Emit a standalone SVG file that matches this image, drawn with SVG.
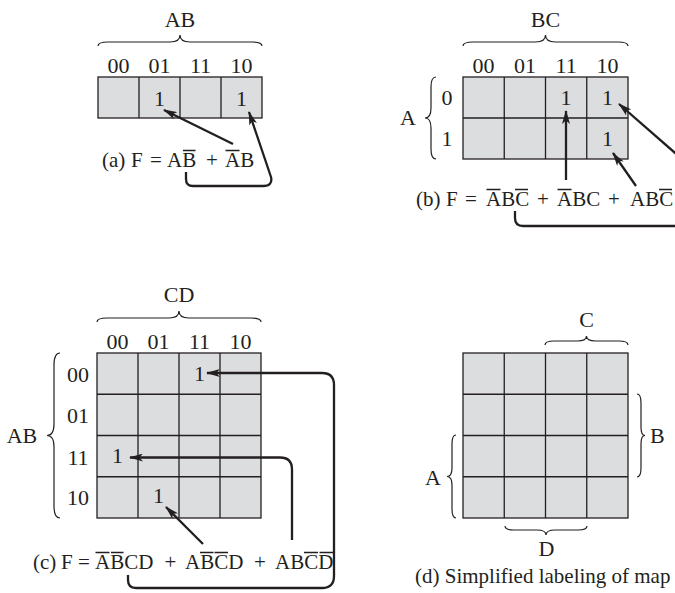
<svg xmlns="http://www.w3.org/2000/svg" width="675" height="593" viewBox="0 0 675 593">
<style>
text{font-family:"Liberation Serif","Times New Roman",serif;font-size:22px;fill:#231f20}
.cap{font-size:21px}
.m{text-anchor:middle}
.grid{fill:#dcdddf;stroke:#231f20;stroke-width:1.3}
.gl{stroke:#231f20;stroke-width:1.3;fill:none}
.br{fill:none;stroke:#231f20;stroke-width:1.2}
.ov{stroke:#231f20;stroke-width:1.3}
.cn{fill:none;stroke:#231f20;stroke-width:2.3;stroke-linejoin:round}
.ar{marker-end:url(#ah)}
</style>
<defs>
<marker id="ah" markerUnits="userSpaceOnUse" viewBox="0 0 14 8" refX="13" refY="4" markerWidth="14" markerHeight="8" orient="auto">
<path d="M0,0 L14,4 L0,8 L3.5,4 Z" fill="#231f20"/>
</marker>
</defs>
<rect width="675" height="593" fill="#ffffff"/>

<g id="map-a">
<text class="m" x="180" y="27">AB</text>
<path class="br" d="M98,46 Q98,42 108,42 L170,42 Q180,42 180,35 Q180,42 190,42 L252,42 Q262,42 262,46"/>
<text class="m" x="118.5" y="73">00</text>
<text class="m" x="159.5" y="73">01</text>
<text class="m" x="200.5" y="73">11</text>
<text class="m" x="241.5" y="73">10</text>
<rect class="grid" x="98" y="77" width="164" height="41"/>
<path class="gl" d="M139,77V118M180,77V118M221,77V118"/>
<text class="m" x="159.5" y="106">1</text>
<text class="m" x="241.5" y="106">1</text>
<text class="cap" y="167"><tspan x="102">(a)</tspan><tspan x="131">F</tspan><tspan x="150">=</tspan><tspan x="167">AB</tspan><tspan x="206">+</tspan><tspan x="225">AB</tspan></text>
<path class="ov" d="M183,150.5H195.5M225.5,150.5H239.5"/>
</g>

<g id="map-b">
<text class="m" x="545.5" y="27">BC</text>
<path class="br" d="M463,46 Q463,42 473,42 L535.5,42 Q545.5,42 545.5,35 Q545.5,42 555.5,42 L618,42 Q628,42 628,46"/>
<text class="m" x="483.6" y="73">00</text>
<text class="m" x="524.9" y="73">01</text>
<text class="m" x="566.1" y="73">11</text>
<text class="m" x="607.4" y="73">10</text>
<text class="m" x="408" y="125">A</text>
<path class="br" d="M436,77 Q431,77 431,87 L431,108 Q431,118 425,118 Q431,118 431,128 L431,149 Q431,159 436,159"/>
<text class="m" x="447" y="105">0</text>
<text class="m" x="447" y="146">1</text>
<rect class="grid" x="463" y="77" width="165" height="82"/>
<path class="gl" d="M504.25,77V159M545.5,77V159M586.75,77V159M463,118H628"/>
<text class="m" x="566.1" y="105">1</text>
<text class="m" x="607.4" y="105">1</text>
<text class="m" x="607.4" y="146">1</text>
<text class="cap" y="206"><tspan x="416">(b)</tspan><tspan x="446">F</tspan><tspan x="465">=</tspan><tspan x="486">ABC</tspan><tspan x="537">+</tspan><tspan x="557">ABC</tspan><tspan x="608">+</tspan><tspan x="630">ABC</tspan></text>
<path class="ov" d="M486.5,189.5H500.5M515,189.5H528M557.5,189.5H571.5M659,189.5H672"/>
</g>

<g id="map-c">
<text class="m" x="179" y="302">CD</text>
<path class="br" d="M97,322 Q97,318 107,318 L169,318 Q179,318 179,311 Q179,318 189,318 L251,318 Q261,318 261,322"/>
<text class="m" x="117.5" y="349">00</text>
<text class="m" x="158.5" y="349">01</text>
<text class="m" x="199.5" y="349">11</text>
<text class="m" x="240.5" y="349">10</text>
<text class="m" x="22" y="443">AB</text>
<path class="br" d="M60,353 Q54,353 54,365 L54,424 Q54,435.5 47,435.5 Q54,435.5 54,447 L54,506 Q54,518 60,518"/>
<text class="m" x="78" y="382">00</text>
<text class="m" x="78" y="423">01</text>
<text class="m" x="78" y="465">11</text>
<text class="m" x="78" y="505">10</text>
<rect class="grid" x="97" y="353" width="164" height="165"/>
<path class="gl" d="M138,353V518M179,353V518M220,353V518M97,394.25H261M97,435.5H261M97,476.75H261"/>
<text class="m" x="199.5" y="381">1</text>
<text class="m" x="117.5" y="463">1</text>
<text class="m" x="158.5" y="503">1</text>
<text class="cap" y="569"><tspan x="33">(c)</tspan><tspan x="61">F</tspan><tspan x="78">=</tspan><tspan x="95">ABCD</tspan><tspan x="164.5">+</tspan><tspan x="185">ABCD</tspan><tspan x="254">+</tspan><tspan x="275">ABCD</tspan></text>
<path class="ov" d="M95.5,552.5H109.5M111,552.5H123.5M200,552.5H213.5M214.5,552.5H228M304,552.5H318M319.5,552.5H333.5"/>
</g>

<g id="map-d">
<text class="m" x="586.5" y="327">C</text>
<path class="br" d="M545,345 Q545,341 554,341 L577.5,341 Q586.5,341 586.5,336 Q586.5,341 595.5,341 L619,341 Q628,341 628,345"/>
<text x="650" y="443">B</text>
<path class="br" d="M637,394 Q641,394 641,403 L641,427 Q641,435.5 645,435.5 Q641,435.5 641,444 L641,468 Q641,477 637,477"/>
<text class="m" x="433" y="485">A</text>
<path class="br" d="M456,435 Q452,435 452,444 L452,468 Q452,476.5 447,476.5 Q452,476.5 452,485 L452,509 Q452,518 456,518"/>
<rect class="grid" x="463" y="353" width="165" height="165"/>
<path class="gl" d="M504.25,353V518M545.5,353V518M586.75,353V518M463,394.25H628M463,435.5H628M463,476.75H628"/>
<path class="br" d="M505,526 Q505,530 514,530 L537,530 Q546,530 546,535 Q546,530 555,530 L578,530 Q587,530 587,526"/>
<text class="m" x="546.5" y="556">D</text>
<text class="cap" x="415" y="583">(d) Simplified labeling of map</text>
</g>

<g id="connectors">
<path class="cn ar" d="M233,144 L164,110"/>
<path class="cn ar" d="M186,172 L186,179 Q186,186 193,186 L263,186 Q273,186 271,177 L249,112"/>
<path class="cn ar" d="M566,180 L566,111"/>
<path class="cn ar" d="M636,186 L613,153"/>
<path class="cn ar" d="M690,166 L619,104"/>
<path class="cn" d="M515,211 L515,218 Q515,226 523,226 L680,226"/>
<path class="cn ar" d="M128,575 L128,580 Q128,588 136,588 L322,588 Q334,588 334,576 L334,385 Q334,373 322,373 L207,373"/>
<path class="cn ar" d="M292,540 L292,469.5 Q292,457.5 280,457.5 L130,457.5"/>
<path class="cn ar" d="M203,544 L166,507"/>
</g>
</svg>
